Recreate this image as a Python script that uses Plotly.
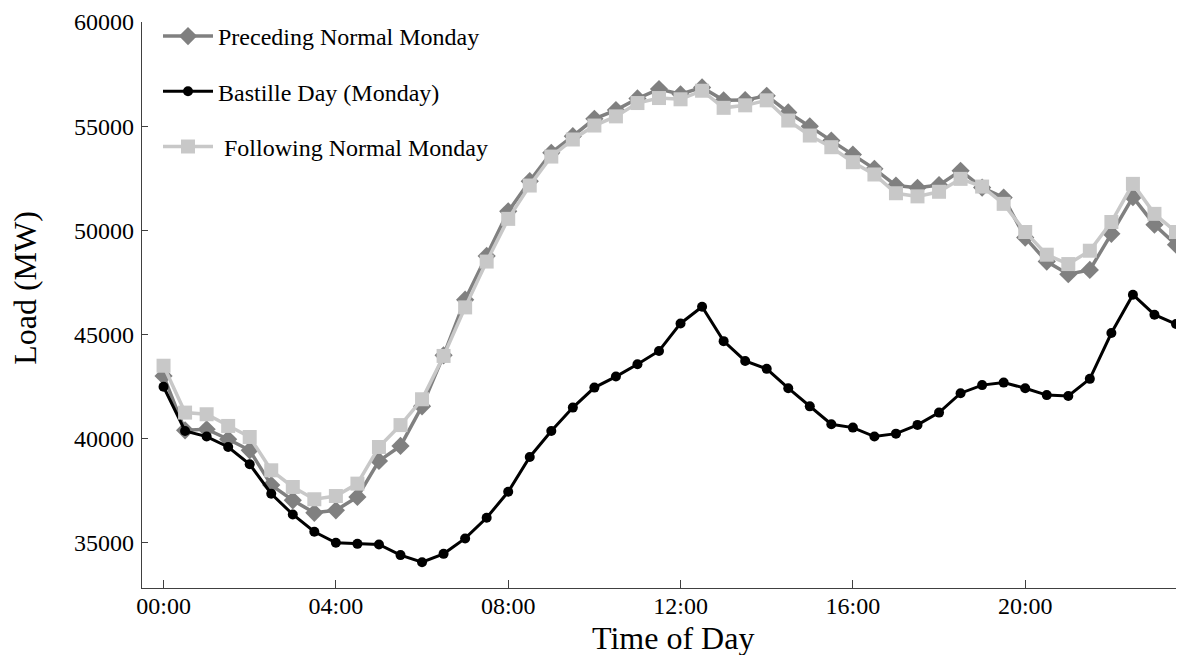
import plotly.graph_objects as go

times = ["00:00","00:30","01:00","01:30","02:00","02:30","03:00","03:30","04:00","04:30",
         "05:00","05:30","06:00","06:30","07:00","07:30","08:00","08:30","09:00","09:30",
         "10:00","10:30","11:00","11:30","12:00","12:30","13:00","13:30","14:00","14:30",
         "15:00","15:30","16:00","16:30","17:00","17:30","18:00","18:30","19:00","19:30",
         "20:00","20:30","21:00","21:30","22:00","22:30","23:00","23:30"]

preceding = [43010, 40400, 40450, 39970, 39440, 37770, 37040, 36440, 36560, 37200,
             38930, 39650, 41550, 44000, 46670, 48770, 50910, 52360, 53720, 54520,
             55350, 55770, 56330, 56780, 56530, 56860, 56240, 56250, 56460, 55660,
             54990, 54310, 53640, 52950, 52150, 52040, 52170, 52860, 52050, 51570,
             49650, 48500, 47890, 48100, 49830, 51590, 50270, 49310]

bastille = [42490, 40370, 40100, 39600, 38770, 37355, 36360, 35530, 35000, 34950,
            34920, 34410, 34070, 34470, 35210, 36200, 37450, 39120, 40370, 41490,
            42450, 42980, 43570, 44210, 45530, 46330, 44680, 43730, 43350, 42420,
            41550, 40690, 40530, 40100, 40240, 40660, 41250, 42180, 42570, 42690,
            42420, 42090, 42050, 42870, 45070, 46910, 45950, 45500]

following = [43500, 41250, 41170, 40610, 40080, 38480, 37680, 37090, 37245, 37840,
             39600, 40650, 41890, 43970, 46300, 48500, 50550, 52150, 53540, 54360,
             55030, 55470, 56110, 56350, 56290, 56700, 55880, 56000, 56240, 55270,
             54550, 53990, 53270, 52680, 51780, 51630, 51850, 52470, 52100, 51270,
             49920, 48830, 48380, 49020, 50400, 52230, 50790, 49920]

tick_hours = [0, 4, 8, 12, 16, 20, 23.5]
tick_labels = ["00:00", "04:00", "08:00", "12:00", "16:00", "20:00", ""]
y_ticks = [35000, 40000, 45000, 50000, 55000, 60000]

hours = [int(t[:2]) + int(t[3:]) / 60 for t in times]

FONT = "Liberation Serif, Times New Roman, serif"
W, H = 1176, 647

fig = go.Figure()
fig.add_trace(go.Scatter(
    x=hours, y=preceding, name="Preceding Normal Monday", mode="lines+markers",
    line=dict(color="#808080", width=3.5),
    marker=dict(symbol="diamond", size=14, color="#808080"),
    legendgroup="a"))
fig.add_trace(go.Scatter(
    x=hours, y=bastille, name="Bastille Day (Monday)", mode="lines+markers",
    line=dict(color="#000000", width=3),
    marker=dict(symbol="circle", size=10, color="#000000"),
    legendgroup="b"))
fig.add_trace(go.Scatter(
    x=hours, y=following, name=" Following Normal Monday", mode="lines+markers",
    line=dict(color="#c8c8c8", width=3.5),
    marker=dict(symbol="square", size=14, color="#c8c8c8"),
    legendgroup="c"))

fig.update_layout(
    width=W, height=H,
    margin=dict(l=133.5, r=8, t=13.7, b=67.3, autoexpand=False),
    paper_bgcolor="white", plot_bgcolor="white",
    font=dict(family=FONT, size=24, color="black"),
    showlegend=True,
    legend=dict(xref="container", yref="container",
                x=150 / W, y=1 - 6 / H, xanchor="left", yanchor="top",
                bgcolor="rgba(0,0,0,0)", font=dict(size=24),
                tracegroupgap=21, traceorder="grouped", itemwidth=50),
    xaxis=dict(range=[-0.5, 23.5], tickvals=tick_hours, ticktext=tick_labels,
               ticks="inside", ticklen=8, tickcolor="#404040", tickwidth=1,
               showline=True, linecolor="#404040", linewidth=1.2,
               showgrid=False, zeroline=False, automargin=False,
               tickfont=dict(size=24), ticklabelstandoff=-4),
    yaxis=dict(range=[32830, 60000], tickvals=y_ticks, tickformat="d",
               ticks="inside", ticklen=6, tickcolor="#404040", tickwidth=1,
               showline=True, linecolor="#404040", linewidth=1.2,
               showgrid=False, zeroline=False, automargin=False,
               tickfont=dict(size=24), ticklabelstandoff=2),
    annotations=[
        dict(text="Time of Day", xref="paper", yref="paper",
             x=0.5138, y=-0.0875,
             xanchor="center", yanchor="middle", showarrow=False,
             font=dict(size=32)),
        dict(text="Load (MW)", xref="paper", yref="paper",
             x=-0.1126, y=0.5295,
             xanchor="center", yanchor="middle", showarrow=False,
             textangle=-90, font=dict(size=32)),
    ],
)

fig.write_html("out.html")
